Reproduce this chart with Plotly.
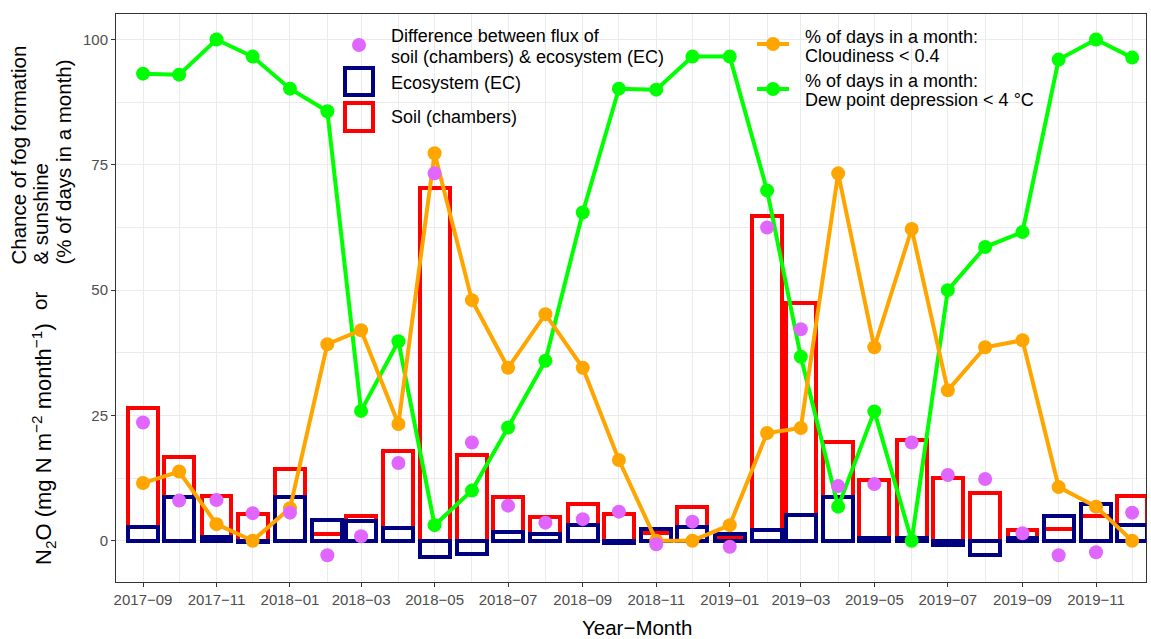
import plotly.graph_objects as go

# ---------------- data ----------------
months = ["2017-09-01", "2017-10-01", "2017-11-01", "2017-12-01",
          "2018-01-01", "2018-02-01", "2018-03-01", "2018-04-01", "2018-05-01", "2018-06-01",
          "2018-07-01", "2018-08-01", "2018-09-01", "2018-10-01", "2018-11-01", "2018-12-01",
          "2019-01-01", "2019-02-01", "2019-03-01", "2019-04-01", "2019-05-01", "2019-06-01",
          "2019-07-01", "2019-08-01", "2019-09-01", "2019-10-01", "2019-11-01", "2019-12-01"]

soil = [26.5, 16.8, 8.9, 5.3, 14.3, 1.3, 5.0, 18.0, 70.3, 17.1, 8.8, 4.8, 7.3, 5.3,
        1.6, 6.7, 0.8, 64.7, 47.4, 19.7, 12.1, 20.1, 12.5, 9.5, 2.1, 2.3, 5.0, 8.9]
eco = [2.8, 8.7, 0.8, -0.3, 8.7, 4.1, 4.0, 2.5, -3.2, -2.7, 1.7, 1.3, 3.1, -0.5,
       2.3, 2.8, 1.3, 2.1, 5.1, 8.7, 0.5, 0.5, -0.9, -2.9, 0.5, 5.0, 7.3, 3.1]
diff = [23.6, 8.0, 8.1, 5.5, 5.6, -2.9, 0.9, 15.5, 73.3, 19.6, 7.0, 3.6, 4.3, 5.8,
        -0.7, 3.8, -1.2, 62.5, 42.2, 10.9, 11.3, 19.6, 13.1, 12.3, 1.5, -2.9, -2.3, 5.6]
cloud = [11.5, 13.8, 3.3, 0, 6.5, 39.2, 42.0, 23.3, 77.3, 48.0, 34.5, 45.2, 34.5, 16.1,
         0, 0, 3.1, 21.5, 22.5, 73.3, 38.6, 62.2, 30.0, 38.6, 40.0, 10.7, 6.8, 0]
dew = [93.2, 93.0, 100, 96.6, 90.2, 85.7, 25.9, 39.8, 3.1, 10.0, 22.6, 35.9, 65.5, 90.2,
       90.0, 96.6, 96.6, 69.9, 36.7, 6.8, 25.8, 0, 50.0, 58.6, 61.6, 96.0, 100, 96.4]

y_ticks = [0, 25, 50, 75, 100]

# ---------------- style ----------------
FONT = "Liberation Sans, Arial, sans-serif"
RED, BLUE, VIOLET, ORANGE, GREEN = "#FF0000", "#000080", "#E066FF", "#FFA500", "#00FF00"
GRID = "#EBEBEB"
W, H = 1151, 639
PL, PR, PT, PB = 116, 1146, 14, 582
BAR_W = 24.8 * 86400000  # ms
LW = 4


def px(x):
    return (x - PL) / (PR - PL)


def py(y):
    return (PB - y) / (PB - PT)


fig = go.Figure()

fig.add_trace(go.Bar(x=months, y=soil, width=BAR_W, marker=dict(color="rgba(0,0,0,0)",
                     line=dict(color=RED, width=LW)), showlegend=False))
fig.add_trace(go.Bar(x=months, y=eco, width=BAR_W, marker=dict(color="rgba(0,0,0,0)",
                     line=dict(color=BLUE, width=LW)), showlegend=False))
fig.add_trace(go.Scatter(x=months, y=dew, mode="lines+markers",
                         line=dict(color=GREEN, width=LW),
                         marker=dict(color=GREEN, size=14), showlegend=False))
fig.add_trace(go.Scatter(x=months, y=cloud, mode="lines+markers",
                         line=dict(color=ORANGE, width=LW),
                         marker=dict(color=ORANGE, size=14), showlegend=False))
fig.add_trace(go.Scatter(x=months, y=diff, mode="markers",
                         marker=dict(color=VIOLET, size=14), showlegend=False))

# ---------------- manual legend ----------------
shapes = []
annotations = []
shapes.append(dict(type="circle", xref="paper", yref="paper", xsizemode="pixel", ysizemode="pixel",
                   xanchor=px(359), yanchor=py(45), x0=-7, x1=7, y0=-7, y1=7,
                   fillcolor=VIOLET, line=dict(width=0)))
shapes.append(dict(type="rect", xref="paper", yref="paper", x0=px(345), x1=px(373),
                   y0=py(95), y1=py(68), line=dict(color=BLUE, width=LW), fillcolor="rgba(0,0,0,0)"))
shapes.append(dict(type="rect", xref="paper", yref="paper", x0=px(345), x1=px(373),
                   y0=py(131), y1=py(103), line=dict(color=RED, width=LW), fillcolor="rgba(0,0,0,0)"))
for col, yk in [(ORANGE, 44), (GREEN, 89)]:
    shapes.append(dict(type="line", xref="paper", yref="paper", x0=px(757), x1=px(789),
                       y0=py(yk), y1=py(yk), line=dict(color=col, width=LW)))
    shapes.append(dict(type="circle", xref="paper", yref="paper", xsizemode="pixel", ysizemode="pixel",
                       xanchor=px(773), yanchor=py(yk), x0=-7, x1=7, y0=-7, y1=7,
                       fillcolor=col, line=dict(width=0)))

leg_texts = [
    ("Difference between flux of", 389, 36),
    ("soil (chambers) & ecosystem (EC)", 389, 57),
    ("Ecosystem (EC)", 389, 83),
    ("Soil (chambers)", 389, 117),
    ("% of days in a month:", 803, 37),
    ("Cloudiness < 0.4", 803, 56),
    ("% of days in a month:", 803, 81),
    ("Dew point depression < 4 °C", 803, 100),
]
for t, xx, yy in leg_texts:
    annotations.append(dict(text=t, x=px(xx), y=py(yy), xref="paper", yref="paper",
                            xanchor="left", yanchor="middle", showarrow=False,
                            font=dict(family=FONT, size=18, color="black")))

# ---------------- axis titles ----------------
annotations.append(dict(text="Year\u2212Month", x=px(637), y=py(627), xref="paper", yref="paper",
                        xanchor="center", yanchor="middle", showarrow=False,
                        font=dict(family=FONT, size=20.5, color="black")))
ytitle_parts = [
    ("Chance of fog formation", 18, 267),
    ("& sunshine", 40, 267),
    ("(% of days in a month)", 63, 267),
]
for t, xx, yb in ytitle_parts:
    annotations.append(dict(text=t, x=px(xx), y=py(yb), xref="paper", yref="paper",
                            xanchor="center", yanchor="bottom", textangle=-90, showarrow=False,
                            font=dict(family=FONT, size=20.5, color="black")))
annotations.append(dict(text="or", x=px(40), y=py(301), xref="paper", yref="paper",
                        xanchor="center", yanchor="middle", textangle=-90, showarrow=False,
                        font=dict(family=FONT, size=20.5, color="black")))
annotations.append(dict(text="N<sub>2</sub>O (mg N m<sup>\u22122</sup> month<sup>\u22121</sup>)",
                        x=px(43), y=py(567), xref="paper", yref="paper",
                        xanchor="center", yanchor="bottom", textangle=-90, showarrow=False,
                        font=dict(family=FONT, size=22, color="black")))

fig.update_layout(
    width=W, height=H,
    margin=dict(l=PL, r=W - PR, t=PT, b=H - PB),
    paper_bgcolor="white", plot_bgcolor="white",
    barmode="overlay", bargap=0,
    showlegend=False,
    shapes=shapes, annotations=annotations,
    font=dict(family=FONT),
)

fig.update_xaxes(
    type="date",
    range=["2017-08-09 14:00", "2019-12-12 12:00"],
    tick0="2017-09-01", dtick="M2", tickformat="%Y\u2212%m",
    ticks="outside", ticklen=4, tickwidth=1, tickcolor="#333333",
    tickfont=dict(family=FONT, size=15, color="#4D4D4D"),
    showgrid=True, gridcolor=GRID, gridwidth=1.2,
    minor=dict(dtick="M1", tick0="2017-09-01", showgrid=True, gridcolor=GRID, gridwidth=0.6),
    showline=True, linecolor="#333333", linewidth=1, mirror=True,
    zeroline=False,
)
fig.update_yaxes(
    range=[-8.24, 105.1],
    tickvals=y_ticks,
    ticks="outside", ticklen=4, tickwidth=1, tickcolor="#333333",
    tickfont=dict(family=FONT, size=15, color="#4D4D4D"),
    showgrid=True, gridcolor=GRID, gridwidth=1.2,
    minor=dict(dtick=12.5, tick0=0, showgrid=True, gridcolor=GRID, gridwidth=0.6),
    showline=True, linecolor="#333333", linewidth=1, mirror=True,
    zeroline=False,
)

fig.write_html("out.html")
